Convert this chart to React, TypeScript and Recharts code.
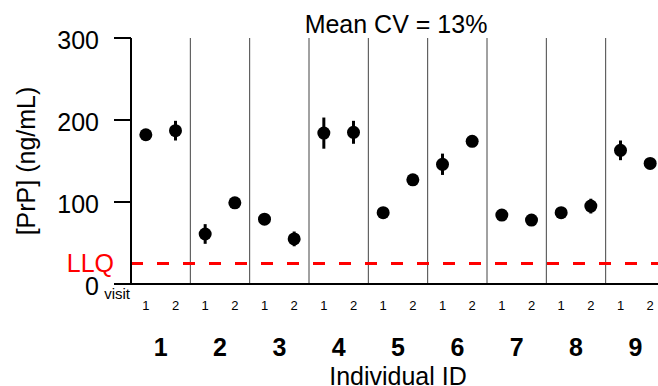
import {
  ComposedChart,
  ErrorBar,
  ReferenceLine,
  Scatter,
  XAxis,
  YAxis,
} from "recharts";

// individual IDs and the two visits per individual
const ids = [1, 2, 3, 4, 5, 6, 7, 8, 9];
const visitLabels = ["1", "2"];
const visitOffsets = [-0.25, 0.25];

// mean [PrP] (ng/mL) per visit, with the error (half-range)
const visit1 = [182, 61, 79, 184, 87, 146, 84, 87, 163];
const visit2 = [187, 99, 55, 185, 127, 174, 78, 95, 147];
const err1 = [4, 12, 4, 19, 4, 13, 4, 5, 12];
const err2 = [12, 4, 9, 14, 4, 5, 4, 9, 5];

const yTicks = [0, 100, 200, 300];
const llq = 25;
const meanCv = "Mean CV = 13%";

const FONT = "'Liberation Sans', Arial, sans-serif";

const points = ids.flatMap((id, i) => [
  { x: id + visitOffsets[0], y: visit1[i], err: err1[i] },
  { x: id + visitOffsets[1], y: visit2[i], err: err2[i] },
]);

const xTicks = [
  0.5,
  ...ids.flatMap((id) => [id + visitOffsets[0], id, id + visitOffsets[1]]),
];
const separators = ids.slice(0, -1).map((id) => id + 0.5);

function XTick(props: any) {
  const { x, y, payload } = props;
  const v = payload.value as number;
  if (v === 0.5) {
    return (
      <text x={x - 1} y={y - 1} textAnchor="end" fontSize={15} fill="#000" fontFamily={FONT}>
        visit
      </text>
    );
  }
  if (Number.isInteger(v)) {
    return (
      <text x={x} y={y + 56} textAnchor="middle" fontSize={25} fontWeight="bold" fill="#000" fontFamily={FONT}>
        {v}
      </text>
    );
  }
  const label = v - Math.round(v) < 0 ? visitLabels[0] : visitLabels[1];
  return (
    <text x={x} y={y + 9.5} textAnchor="middle" fontSize={13} fill="#000" fontFamily={FONT}>
      {label}
    </text>
  );
}

function YTick(props: any) {
  const { x, y, payload } = props;
  return (
    <text x={x} y={y + 11} textAnchor="end" fontSize={25} fill="#000" fontFamily={FONT}>
      {payload.value}
    </text>
  );
}

function YLabel() {
  return (
    <text
      x={35}
      y={161}
      transform="rotate(-90 35 161)"
      textAnchor="middle"
      fontSize={25}
      fill="#000"
      fontFamily={FONT}
    >
      [PrP] (ng/mL)
    </text>
  );
}

const Dot = (props: any) => <circle cx={props.cx} cy={props.cy} r={6.5} fill="#000" />;

export default function App() {
  return (
    <div
      style={{
        position: "absolute",
        left: 0,
        top: 0,
        width: 658,
        height: 386,
        overflow: "hidden",
        background: "#fff",
      }}
    >
      <ComposedChart
        width={666}
        height={386}
        margin={{ top: 38, right: 1, bottom: 0, left: 0 }}
        style={{ fontFamily: FONT }}
      >
        <XAxis
          dataKey="x"
          type="number"
          domain={[0.5, 9.5]}
          ticks={xTicks}
          interval={0}
          height={102}
          tickLine={false}
          tickSize={8}
          tickMargin={8}
          axisLine={{ stroke: "#000", strokeWidth: 2 }}
          tick={<XTick />}
          label={{
            value: "Individual ID",
            position: "insideBottom",
            offset: 1,
            fill: "#000",
            fontSize: 25,
          }}
        />
        <YAxis
          dataKey="y"
          type="number"
          domain={[0, 300]}
          ticks={yTicks}
          width={131}
          tickSize={17}
          tickMargin={15}
          axisLine={{ stroke: "#000", strokeWidth: 2 }}
          tickLine={{ stroke: "#000", strokeWidth: 2 }}
          tick={<YTick />}
          label={<YLabel />}
        />
        {separators.map((s) => (
          <ReferenceLine key={s} x={s} stroke="#444" strokeWidth={1} />
        ))}
        <ReferenceLine
          y={llq}
          stroke="#ff0000"
          strokeWidth={3}
          strokeDasharray="12 14"
          label={{ value: "LLQ", position: "left", offset: 17, fill: "#ff0000", fontSize: 25 }}
        />
        <ReferenceLine
          y={300}
          stroke="none"
          label={{ value: meanCv, position: "top", offset: 5, fill: "#000", fontSize: 25, dx: -2 }}
        />
        <Scatter data={points} dataKey="y" shape={<Dot />} isAnimationActive={false}>
          <ErrorBar dataKey="err" direction="y" width={0} strokeWidth={3} stroke="#000" />
        </Scatter>
      </ComposedChart>
    </div>
  );
}
